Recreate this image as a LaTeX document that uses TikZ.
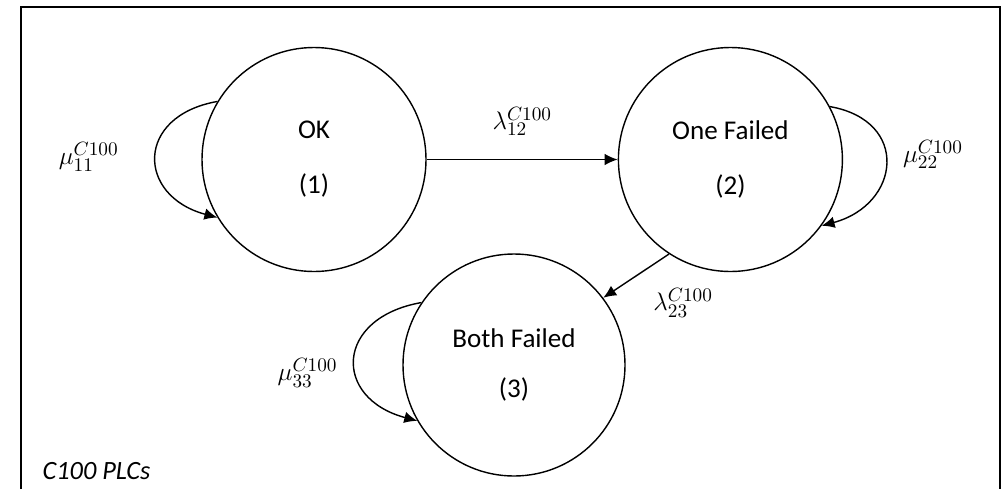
\documentclass[tikz,border=0pt]{standalone}
\usepackage{fontspec}
\setmainfont{Carlito}
\usetikzlibrary{positioning}
\usetikzlibrary{arrows.meta}
\tikzset{>={Latex[width=2.3mm,length=2.6mm]}}
\tikzset{stnode/.style={draw, circle, minimum size=4.48cm, inner sep=0pt, align=center}}

\begin{document}
\begin{tikzpicture}[font=\fontsize{15.4}{18.5}\selectfont, line width=0.8pt]
    \useasboundingbox (0,0) rectangle (20.04,-9.78);
    \path [draw, line width=1.1pt] (0.42,-9.78) |- (20.0,-0.14) -- (20.0,-9.78);

    \node (OK) [stnode] at (6.28,-3.19) {OK\\[0.45cm](1)};
    \node (OF) [stnode, right=3.82cm of OK] {One Failed\\[0.45cm](2)};
    \node (BF) [stnode, minimum size=4.44cm] at (10.28,-7.30) {Both Failed\\[0.35cm](3)};
    \node (PLC) [anchor=west, font=\fontsize{15}{18}\selectfont\itshape] at (0.72,-9.42) {C100 PLCs};

    \path [draw, ->] (OK) -- node [above=0.35cm] {$\lambda_{12}^{C100}$} (OF);
    \path [draw, ->] (OF.237) -- node [xshift=0.94cm, yshift=-0.54cm] {$\lambda_{23}^{C100}$} (BF.37);
    \path [draw, ->] (OK.149) to [out=190, in=165, looseness=1.85] node [left=0.62cm] {$\mu_{11}^{C100}$} (OK.211);
    \path [draw, ->] (OF.28) to [out=-10, in=15, looseness=1.75] node [right=0.22cm, yshift=0.18cm] {$\mu_{22}^{C100}$} (OF.-36);
    \path [draw, ->] (BF.146) to [out=190, in=165, looseness=1.9] node [left=0.22cm, yshift=-0.28cm] {$\mu_{33}^{C100}$} (BF.210);
\end{tikzpicture}
\end{document}
